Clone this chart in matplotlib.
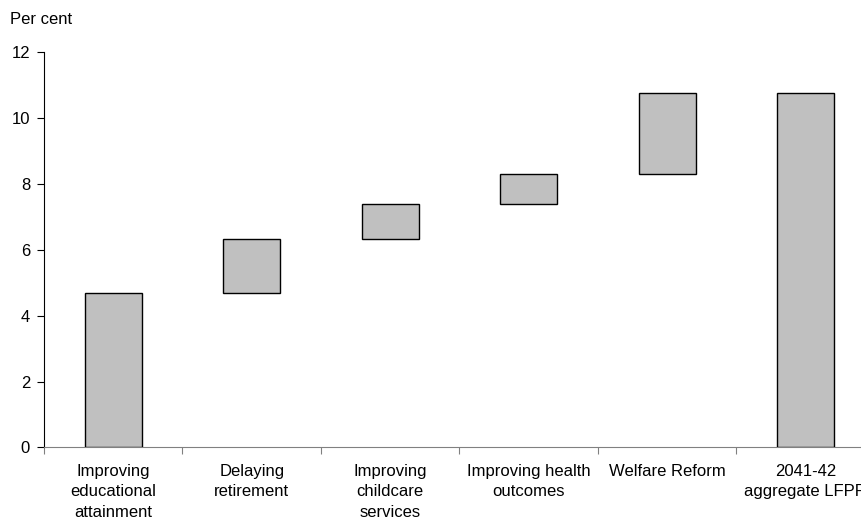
import matplotlib
matplotlib.use("Agg")
import matplotlib.pyplot as plt

plt.rcParams['font.family'] = ['Liberation Sans', 'DejaVu Sans']

categories = ["Improving\neducational\nattainment", "Delaying\nretirement",
              "Improving\nchildcare\nservices", "Improving health\noutcomes",
              "Welfare Reform", "2041-42\naggregate LFPR"]
# floating bars: bottom and top of each box (per cent)
bar_bottoms = [0.0, 4.70, 6.33, 7.40, 8.30, 0.0]
bar_tops = [4.70, 6.33, 7.40, 8.30, 10.75, 10.75]
y_ticks = [0, 2, 4, 6, 8, 10, 12]

fig = plt.figure(figsize=(8.62, 5.27), dpi=100)
ax = fig.add_axes([0.051, 0.151, 0.964, 0.7505])

x = list(range(len(categories)))
heights = [t - b for t, b in zip(bar_tops, bar_bottoms)]
ax.bar(x, heights, bottom=bar_bottoms, width=0.41, color="#C0C0C0",
       edgecolor="black", linewidth=1.0, zorder=3)

ax.set_xlim(-0.5, len(categories) - 0.5)
ax.set_ylim(0, 12)
ax.set_yticks(y_ticks)
ax.set_yticklabels([str(v) for v in y_ticks], fontsize=12)

# category ticks sit between the bars, labels under the bar centres
ax.set_xticks([i - 0.5 for i in range(len(categories) + 1)])
ax.set_xticklabels([])
ax.set_xticks(x, minor=True)
ax.set_xticklabels(categories, minor=True, fontsize=12, linespacing=1.45)
ax.tick_params(axis="x", which="minor", length=0, pad=12)
ax.tick_params(axis="x", which="major", length=5, direction="out", color="#808080")
ax.tick_params(axis="y", length=5, direction="out", pad=5)

for side in ["top", "right"]:
    ax.spines[side].set_visible(False)
ax.spines["bottom"].set_color("#808080")
ax.spines["left"].set_color("black")

fig.text(0.012, 0.978, "Per cent", fontsize=12, va="top", ha="left")

fig.savefig("out.png", dpi=100)
